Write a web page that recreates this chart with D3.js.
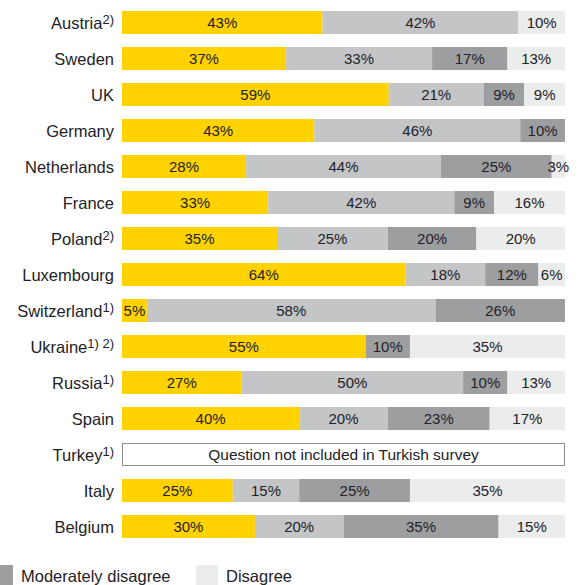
<!DOCTYPE html>
<html>
<head>
<meta charset="utf-8">
<script src="https://cdn.jsdelivr.net/npm/d3@7"></script>
<style>
  body { margin: 0; background: #fff; }
  text { font-family: "Liberation Sans", Arial, sans-serif; fill: #222228; }
</style>
</head>
<body>
<div id="chart"></div>
<script>
// countries, top to bottom; notes are the superscripts after the name
var countries = ['Austria', 'Sweden', 'UK', 'Germany', 'Netherlands', 'France', 'Poland', 'Luxembourg',
  'Switzerland', 'Ukraine', 'Russia', 'Spain', 'Turkey', 'Italy', 'Belgium'];
var notes = ['2)', '', '', '', '', '', '2)', '', '1)', '1) 2)', '1)', '', '1)', '', ''];

var seriesNames = ['Agree', 'Moderately agree', 'Moderately disagree', 'Disagree'];
var agree = [43, 37, 59, 43, 28, 33, 35, 64, 5, 55, 27, 40, null, 25, 30];
var modAgree = [42, 33, 21, 46, 44, 42, 25, 18, 58, 0, 50, 20, null, 15, 20];
var modDisagree = [0, 17, 9, 10, 25, 9, 20, 12, 26, 10, 10, 23, null, 25, 35];
var disagree = [10, 13, 9, 0, 3, 16, 20, 6, 0, 35, 13, 17, null, 35, 15];
var seriesColors = ['#ffd200', '#c4c5c7', '#9d9ea0', '#ebecec'];
var missingText = 'Question not included in Turkish survey';

var width = 579, height = 585;
var margin = { left: 122, right: 14 };

var rows = countries.map(function (c, i) {
  return { country: c, v0: agree[i], v1: modAgree[i], v2: modDisagree[i], v3: disagree[i] };
});
var keys = ['v0', 'v1', 'v2', 'v3'];

var svg = d3.select('#chart').append('svg')
  .attr('width', width)
  .attr('height', height);

var x = d3.scaleLinear().domain([0, 1]).range([margin.left, width - margin.right]);
var y = d3.scaleBand().domain(countries).range([4.5, 544.5]).paddingInner(0.36).paddingOuter(0.18);

// stacked to 100% of what was reported per country
var valid = rows.filter(function (d) { return d.v0 != null; });
var stacked = d3.stack().keys(keys).offset(d3.stackOffsetExpand)(valid);

var layer = svg.selectAll('g.layer')
  .data(stacked)
  .join('g')
  .attr('class', 'layer')
  .attr('fill', function (d, i) { return seriesColors[i]; });

layer.selectAll('rect')
  .data(function (d) { return d.filter(function (s) { return s[1] - s[0] > 0; }); })
  .join('rect')
  .attr('x', function (s) { return x(s[0]); })
  .attr('width', function (s) { return x(s[1]) - x(s[0]); })
  .attr('y', function (s) { return y(s.data.country); })
  .attr('height', y.bandwidth());

// value labels
stacked.forEach(function (ser) {
  ser.forEach(function (s) {
    var v = s.data[ser.key];
    if (!v) return;
    svg.append('text')
      .attr('x', (x(s[0]) + x(s[1])) / 2)
      .attr('y', y(s.data.country) + y.bandwidth() / 2)
      .attr('dy', '0.36em')
      .attr('text-anchor', 'middle')
      .attr('font-size', 15)
      .text(v + '%');
  });
});

// country without data
rows.filter(function (d) { return d.v0 == null; }).forEach(function (d) {
  svg.append('rect')
    .attr('x', x(0) + 0.5)
    .attr('y', y(d.country) + 0.5)
    .attr('width', x(1) - x(0) - 1)
    .attr('height', y.bandwidth() - 1)
    .attr('fill', '#fff')
    .attr('stroke', '#8c8c8c')
    .attr('stroke-width', 1);
  svg.append('text')
    .attr('x', (x(0) + x(1)) / 2)
    .attr('y', y(d.country) + y.bandwidth() / 2)
    .attr('dy', '0.36em')
    .attr('text-anchor', 'middle')
    .attr('font-size', 15.5)
    .text(missingText);
});

// country names
var yAxis = svg.append('g');
countries.forEach(function (c, i) {
  var t = yAxis.append('text')
    .attr('x', 114)
    .attr('y', y(c) + y.bandwidth() / 2)
    .attr('dy', '0.38em')
    .attr('text-anchor', 'end')
    .attr('font-size', 16.5);
  t.append('tspan').text(c);
  if (notes[i]) {
    t.append('tspan')
      .attr('dy', '-0.4em')
      .attr('font-size', 13)
      .text(notes[i]);
  }
});

// legend (only the lower items fit in the frame)
var legendX = [-9, 196];
[2, 3].forEach(function (k, j) {
  svg.append('rect')
    .attr('x', legendX[j])
    .attr('y', 565)
    .attr('width', 22)
    .attr('height', 22)
    .attr('fill', seriesColors[k]);
  svg.append('text')
    .attr('x', legendX[j] + 30)
    .attr('y', 582)
    .attr('font-size', 16.5)
    .text(seriesNames[k]);
});
</script>
</body>
</html>
